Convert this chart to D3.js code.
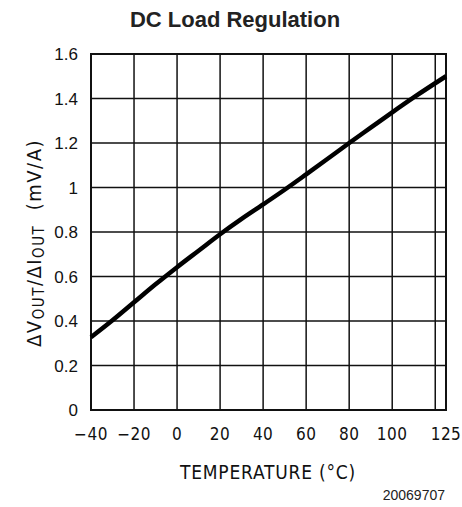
<html>
<head>
<title>DC Load Regulation</title>
<script src="https://d3js.org/d3.v7.min.js"></script>
<style>
body { margin: 0; background: #fff; }
.cond { font-family: 'DejaVu Sans Condensed', 'DejaVu Sans', sans-serif; font-stretch: condensed; }
.arial { font-family: 'Liberation Sans', Arial, sans-serif; }
</style>
</head>
<body>
<svg id="chart" width="462" height="507"></svg>
<script>
// values
var temps  = [-40, -30, -20, -10, 0, 10, 20, 30, 40, 50, 60, 70, 80, 90, 100, 110, 125];
var regVal = [0.327, 0.403, 0.484, 0.565, 0.642, 0.716, 0.79, 0.859, 0.924, 0.99, 1.059, 1.129, 1.2, 1.269, 1.338, 1.405, 1.5];
var xGrid  = [-40, -20, 0, 20, 40, 60, 80, 100, 120, 125];
var xLabels = [-40, -20, 0, 20, 40, 60, 80, 100, 125];
var yTicks = [0, 0.2, 0.4, 0.6, 0.8, 1, 1.2, 1.4, 1.6];

var svg = d3.select("#chart");
var pLeft = 91, pRight = 446, pTop = 54, pBottom = 410;

var x = d3.scaleLinear().domain([-40, 125]).range([pLeft, pRight]);
var y = d3.scaleLinear().domain([0, 1.6]).range([pBottom, pTop]);

// title
svg.append("text")
.attr("class", "arial")
.attr("x", 235)
.attr("y", 27)
.attr("text-anchor", "middle")
.attr("font-weight", "bold")
.attr("font-size", 22)
.attr("fill", "#222")
.text("DC Load Regulation");

// grid
var grid = svg.append("g");
grid.selectAll(".vx").data(xGrid).enter().append("line")
.attr("x1", function (d) { return x(d); })
.attr("x2", function (d) { return x(d); })
.attr("y1", pTop).attr("y2", pBottom)
.style("stroke", "#111").style("stroke-width", 1.5);
grid.selectAll(".hy").data(yTicks).enter().append("line")
.attr("x1", pLeft).attr("x2", pRight)
.attr("y1", function (d) { return y(d); })
.attr("y2", function (d) { return y(d); })
.style("stroke", "#111").style("stroke-width", 1.5);
grid.append("rect")
.attr("x", pLeft).attr("y", pTop)
.attr("width", pRight - pLeft).attr("height", pBottom - pTop)
.style("fill", "none").style("stroke", "#111").style("stroke-width", 2);

// y tick labels
svg.append("g").selectAll("text").data(yTicks).enter().append("text")
.attr("class", "arial")
.attr("x", 78)
.attr("y", function (d) { return y(d); })
.attr("dy", "0.36em")
.attr("text-anchor", "end")
.attr("font-size", 17)
.attr("fill", "#111")
.text(function (d) { return d3.format("")(d); });

// x tick labels
svg.append("g").selectAll("text").data(xLabels).enter().append("text")
.attr("class", "cond")
.attr("x", function (d) { return x(d); })
.attr("y", 440)
.attr("text-anchor", "middle")
.attr("font-size", 17)
.attr("letter-spacing", 0.5)
.attr("fill", "#111")
.text(function (d) { return d < 0 ? "\u2212" + Math.abs(d) : d; });

// curve
var line = d3.line()
.x(function (d, i) { return x(temps[i]); })
.y(function (d) { return y(d); })
.curve(d3.curveMonotoneX);
svg.append("path")
.attr("d", line(regVal))
.style("fill", "none")
.style("stroke", "#000")
.style("stroke-width", 4.5);

// axis titles
svg.append("text")
.attr("class", "cond")
.attr("x", 268)
.attr("y", 479)
.attr("text-anchor", "middle")
.attr("font-size", 19)
.attr("letter-spacing", 0.8)
.attr("fill", "#111")
.text("TEMPERATURE (\u00B0C)");

var yt = svg.append("text")
.attr("class", "cond")
.attr("transform", "translate(41,243) rotate(-90)")
.attr("text-anchor", "middle")
.attr("font-size", 20)
.attr("letter-spacing", 1.5)
.attr("fill", "#111");
yt.append("tspan").text("\u0394V");
yt.append("tspan").attr("font-size", 15).attr("dy", 3).text("OUT");
yt.append("tspan").attr("dy", -3).text("/\u0394I");
yt.append("tspan").attr("font-size", 15).attr("dy", 3).text("OUT");
yt.append("tspan").attr("dy", -3).text("\u00A0\u00A0(mV/A)");

// figure number
svg.append("text")
.attr("class", "arial")
.attr("x", 445)
.attr("y", 500)
.attr("text-anchor", "end")
.attr("font-size", 14)
.attr("fill", "#222")
.text("20069707");
</script>
</body>
</html>
